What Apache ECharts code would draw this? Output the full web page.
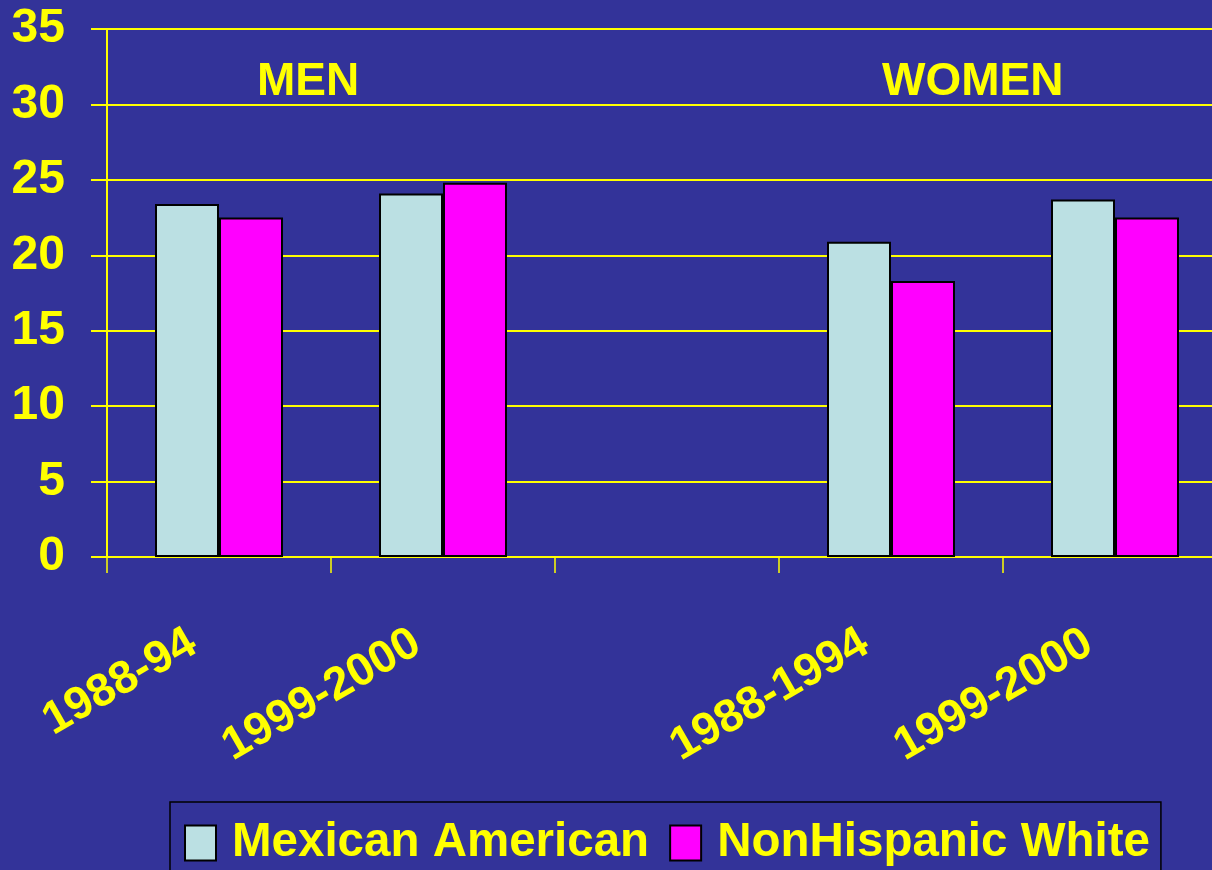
<!DOCTYPE html>
<html lang="en">
<head>
    <meta charset="UTF-8">
    <title>Mexican American vs NonHispanic White</title>
    <script src="https://cdn.jsdelivr.net/npm/echarts@6/dist/echarts.min.js"></script>
</head>
<style>
    * {
        margin: 0px;
        padding: 0px;
    }
    html , body {
        width: 100%;
        height: 100%;
        overflow: hidden;
        background: #333399;
    }
    .container{
        width: 1212px;
        height: 870px;
    }
</style>
<body>
    <div class="container"></div>
</body>
<script>
    // categories on the x axis (middle one is an empty spacer between men and women)
    let categories=['1988-94','1999-2000','','1988-1994','1999-2000'];
    let seriesNames=['Mexican American','NonHispanic White'];
    let mexicanAmerican=[23.4,24.1,null,20.9,23.7];
    let nonHispanicWhite=[22.5,24.8,null,18.3,22.5];
    let groupLabels=['MEN','WOMEN'];

    let yellow='#ffff00';
    let font='"Liberation Sans", Arial, sans-serif';

    let container=document.querySelector(".container");
    let mycharts=echarts.init(container);

    let barStyle=function (color) {
        return {
            color: color,
            borderColor: '#000',
            borderWidth: 2
        }
    }

    let option={
        backgroundColor: '#333399',
        animation: false,
        grid: {
            left: 107,
            top: 29,
            right: -15,
            bottom: 313,
            outerBoundsMode: 'none'
        },
        legend: {
            data: seriesNames,
            left: 170,
            top: 802,
            orient: 'horizontal',
            padding: [17, 11, 40, 14],
            borderColor: '#000',
            borderWidth: 1.5,
            itemWidth: 31,
            itemHeight: 35,
            itemGap: 20,
            icon: 'rect',
            textStyle: {
                color: yellow,
                fontFamily: font,
                fontWeight: 'bold',
                fontSize: 47.5,
                lineHeight: 46,
                padding: [0, 0, 0, 11]
            }
        },
        graphic: [
            {
                type: 'text',
                left: 257,
                top: 59,
                style: {
                    text: groupLabels[0],
                    fill: yellow,
                    font: 'bold 46px ' + font
                }
            },
            {
                type: 'text',
                left: 882,
                top: 59,
                style: {
                    text: groupLabels[1],
                    fill: yellow,
                    font: 'bold 46px ' + font
                }
            }
        ],
        xAxis: {
            type: 'category',
            data: categories,
            axisLine: {
                lineStyle: {color: yellow, width: 2}
            },
            axisTick: {
                show: true,
                length: 16,
                lineStyle: {color: yellow, width: 1.5}
            },
            axisLabel: {
                interval: 0,
                rotate: 30,
                margin: 68,
                color: yellow,
                fontFamily: font,
                fontWeight: 'bold',
                fontSize: 46,
                padding: [0, 30, 0, 0]
            }
        },
        yAxis: {
            type: 'value',
            min: 0,
            max: 35,
            interval: 5,
            axisLine: {
                show: true,
                lineStyle: {color: yellow, width: 2}
            },
            axisTick: {
                show: true,
                length: 16,
                lineStyle: {color: yellow, width: 2}
            },
            axisLabel: {
                margin: 42,
                color: yellow,
                fontFamily: font,
                fontWeight: 'bold',
                fontSize: 48
            },
            splitLine: {
                lineStyle: {color: yellow, width: 2}
            }
        },
        series: [
            {
                name: seriesNames[0],
                type: 'bar',
                data: mexicanAmerican,
                barGap: '0%',
                barCategoryGap: '42.86%',
                itemStyle: barStyle('#bbe0e3')
            },
            {
                name: seriesNames[1],
                type: 'bar',
                data: nonHispanicWhite,
                barGap: '0%',
                barCategoryGap: '42.86%',
                itemStyle: barStyle('#ff00ff')
            }
        ]
    }
    mycharts.setOption(option)
</script>
</html>
